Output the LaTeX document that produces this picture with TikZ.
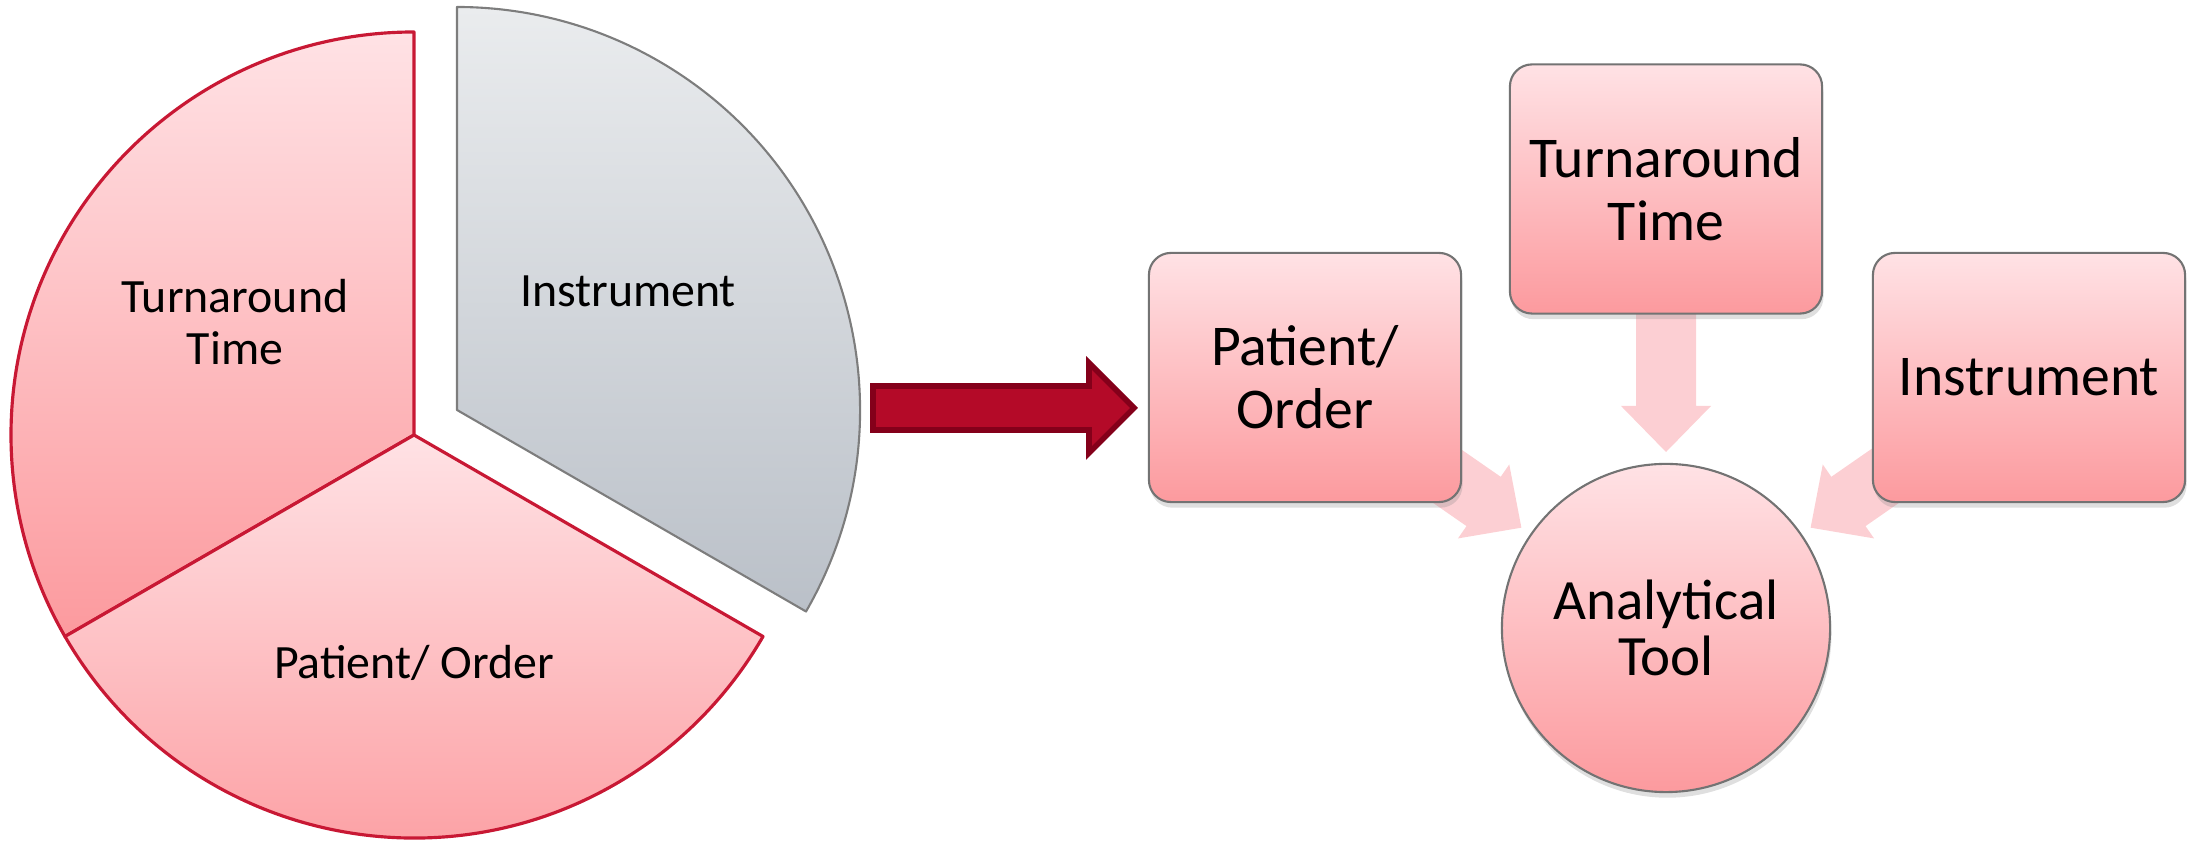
\documentclass[tikz,border=0pt]{standalone}
\usepackage{fontspec}
\setmainfont{Carlito}
\usetikzlibrary{shadows}

\definecolor{pinkTop}{RGB}{255,226,229}
\definecolor{pinkBot}{RGB}{252,154,158}
\definecolor{greyTop}{RGB}{234,236,238}
\definecolor{greyBot}{RGB}{186,192,200}
\definecolor{sliceEdge}{RGB}{200,24,52}
\definecolor{greyEdge}{RGB}{125,125,125}
\definecolor{bigArrow}{RGB}{180,10,40}
\definecolor{bigArrowEdge}{RGB}{132,0,26}
\definecolor{softArrow}{RGB}{252,207,211}

\begin{document}
\begin{tikzpicture}[x=0.01cm,y=0.01cm,
  slicetext/.style={font=\fontsize{13.6}{14.6}\selectfont, align=center, inner sep=0pt},
  slicepink/.style={top color=pinkTop, bottom color=pinkBot, draw=sliceEdge, line width=0.9pt, line join=round},
  slicegrey/.style={top color=greyTop, bottom color=greyBot, draw=greyEdge, line width=0.6pt, line join=round},
  card/.style={draw=black!55, line width=0.6pt, rounded corners=0.22cm,
    top color=pinkTop, bottom color=pinkBot,
    minimum width=3.12cm, minimum height=2.49cm, inner sep=0pt,
    align=center, font=\fontsize{16.4}{17.9}\selectfont,
    drop shadow={opacity=0.25, shadow xshift=0.4pt, shadow yshift=-1.6pt}},
  hub/.style={circle, draw=black!55, line width=0.6pt,
    top color=pinkTop, bottom color=pinkBot,
    minimum size=3.28cm, inner sep=0pt,
    align=center, font=\fontsize{16.2}{15.9}\selectfont,
    drop shadow={opacity=0.25, shadow xshift=0.4pt, shadow yshift=-1.6pt}},
  feed/.style={fill=softArrow, draw=none},
  bigarrow/.style={fill=bigArrow, draw=bigArrowEdge, line width=1.6pt, line join=miter}
]
\useasboundingbox (0,0) rectangle (2203,843);

% ---- pie chart ----
\coordinate (pc) at (414,408);   % centre of the two joined slices
\coordinate (ic) at (457,433);   % centre of the pulled-out slice

\path[slicepink] (pc) -- ++(90:403) arc[start angle=90, end angle=210, radius=403] -- cycle;
\path[slicepink] (pc) -- ++(210:403) arc[start angle=210, end angle=330, radius=403] -- cycle;
\path[slicegrey] (ic) -- ++(-30:403) arc[start angle=-30, end angle=90, radius=403] -- cycle;

\node[slicetext] (ptat) at (235,521) {Turnaround\\Time};
\node[slicetext] (ppo)  at (414,180) {Patient/ Order};
\node[slicetext] (pins) at (628,552) {Instrument};

% ---- big red arrow ----
\coordinate (rtail) at (873,435);
\coordinate (rtip)  at (1134,435);
\path[bigarrow] (rtail) ++(0,-22) -- (1089,413) -- (1089,390) -- (rtip)
  -- (1089,480) -- (1089,457) -- ([yshift=0.22cm]rtail) -- cycle;

% ---- hub and feeding arrows ----
\node[hub] (tool) at (1666,215) {Analytical\\Tool};

\foreach \ang in {145.25, 90, 34.75}{
  \begin{scope}[shift={(tool.center)}, rotate=\ang]
    \path[feed] (176,0) -- (222,45) -- (222,30) -- (439,30) -- (439,-30)
      -- (222,-30) -- (222,-45) -- cycle;
  \end{scope}
}

% ---- source cards ----
\node[card] (bpo)  at (1305,465.5) {Patient/\\Order};
\node[card] (btat) at (1666,654)   {Turnaround\\Time};
\node[card] (bins) at (2029,465.5) {Instrument};

\end{tikzpicture}
\end{document}
